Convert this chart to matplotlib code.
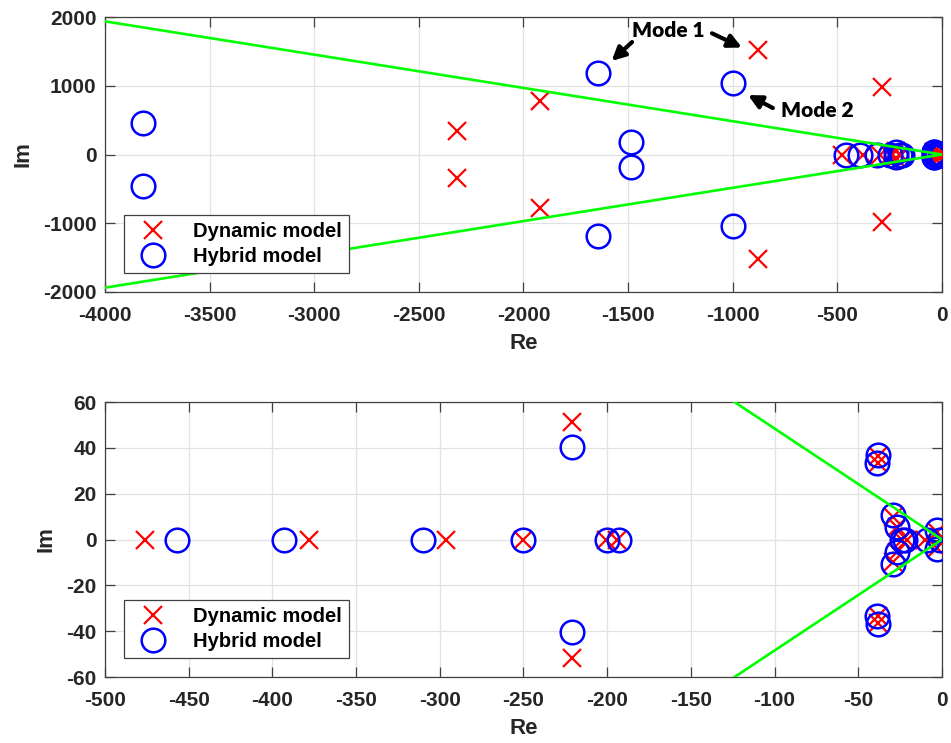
"""
Pole maps of the dynamic and the hybrid model (full view and zoom near the origin).
"""
import matplotlib
matplotlib.use("Agg")
import matplotlib.pyplot as plt

# eigenvalues of the dynamic model (real / imaginary part)
dyn_re = [-2320, -2320, -1920, -1920, -880, -880, -288, -288,
          -476, -378, -296, -250, -221, -221, -201, -194,
          -38, -38, -38.5, -38.5, -29, -29, -27, -27, -24, -21, -10, -3, -3, -1]
dyn_im = [342, -342, 785, -785, 1515, -1515, 985, -985,
          0, 0, 0, 0, 51.5, -51.5, 0, 0,
          36.5, -36.5, 33.5, -33.5, 10, -10, 5.5, -5.5, 0, 0, 0, 3.5, -3.5, 0]

# eigenvalues of the hybrid model
hyb_re = [-3818, -3818, -1645, -1645, -1488, -1488, -1000, -1000,
          -457, -393, -310, -250, -221, -221, -200, -193,
          -38, -38, -39, -39, -29.5, -29.5, -27, -27, -24, -22, -9, -3, -3, -1]
hyb_im = [460, -460, 1188, -1188, 185, -185, 1045, -1045,
          0, 0, 0, 0, 40.3, -40.3, 0, 0,
          37, -37, 33.5, -33.5, 10.5, -10.5, 5.3, -5.3, 0, 0, 0, 4, -4, 0]

# damping boundary (zeta = 0.9)
bound_re = [-4000, 0, -4000]
bound_im = [1937, 0, -1937]

xticks_top = list(range(-4000, 1, 500))
yticks_top = [-2000, -1000, 0, 1000, 2000]
xticks_bot = list(range(-500, 1, 50))
yticks_bot = list(range(-60, 61, 20))

FONT = "Liberation Sans"
AX_COLOR = "#404040"
TXT_COLOR = "#262626"

plt.rcParams["font.family"] = FONT
plt.rcParams["font.weight"] = "bold"
plt.rcParams["axes.unicode_minus"] = False


def draw_poles(ax, xlim, ylim, xticks, yticks):
    ax.plot(dyn_re, dyn_im, "x", color="#ff0000", ms=13, mew=1.6,
            ls="none", label="Dynamic model", zorder=3)
    ax.plot(hyb_re, hyb_im, "o", color="#0000ff", ms=17, mew=1.8,
            mfc="none", ls="none", label="Hybrid model", zorder=3)
    ax.plot(bound_re, bound_im, color="#00ff00", lw=1.9, zorder=4)

    ax.set_xlim(*xlim)
    ax.set_ylim(*ylim)
    ax.set_xticks(xticks)
    ax.set_yticks(yticks)
    ax.grid(True, color="#e2e2e2", lw=0.9)
    ax.set_axisbelow(True)
    ax.tick_params(direction="in", length=7, width=0.9, color=AX_COLOR,
                   labelcolor=TXT_COLOR, labelsize=15, top=True, right=True)
    ax.tick_params(axis="x", pad=10)
    ax.tick_params(axis="y", pad=6)
    for sp in ax.spines.values():
        sp.set_color(AX_COLOR)
        sp.set_linewidth(0.9)
    ax.set_xlabel("Re", fontsize=16, fontweight="bold", color=TXT_COLOR, labelpad=6)
    ax.set_ylabel("Im", fontsize=16, fontweight="bold", color=TXT_COLOR, labelpad=7)

    leg = ax.legend(loc="lower left", bbox_to_anchor=(0.0225, 0.07),
                    borderaxespad=0, fancybox=False, fontsize=14.5,
                    handlelength=2.2, handletextpad=0.9, borderpad=0.35,
                    labelspacing=0.3, framealpha=1)
    leg.get_frame().set_edgecolor(AX_COLOR)
    leg.get_frame().set_linewidth(0.9)
    for t in leg.get_texts():
        t.set_color("black")


fig = plt.figure(figsize=(9.51, 7.43), dpi=100)
ax1 = fig.add_axes([0.1104, 0.6070, 0.8801, 0.3701])
ax2 = fig.add_axes([0.1104, 0.0888, 0.8801, 0.3701])

draw_poles(ax1, (-4000, 0), (-2000, 2000), xticks_top, yticks_top)
draw_poles(ax2, (-500, 0), (-60, 60), xticks_bot, yticks_bot)

# mode annotations
note_font = dict(family=["Lato", "DejaVu Sans"], fontsize=15, fontweight="heavy",
                 color="black", ha="center", va="center")
arrow = dict(arrowstyle="-|>", color="black", lw=3.0, mutation_scale=20,
             shrinkA=0, shrinkB=0)
ax1.text(-1307, 1800, "Mode 1", **note_font)
ax1.annotate("", xy=(-1579, 1360), xytext=(-1481, 1636), arrowprops=arrow)
ax1.annotate("", xy=(-956, 1556), xytext=(-1099, 1763), arrowprops=arrow)
ax1.text(-597, 637, "Mode 2", **note_font)
ax1.annotate("", xy=(-927, 865), xytext=(-808, 676), arrowprops=arrow)

fig.savefig("out.png", dpi=100)
